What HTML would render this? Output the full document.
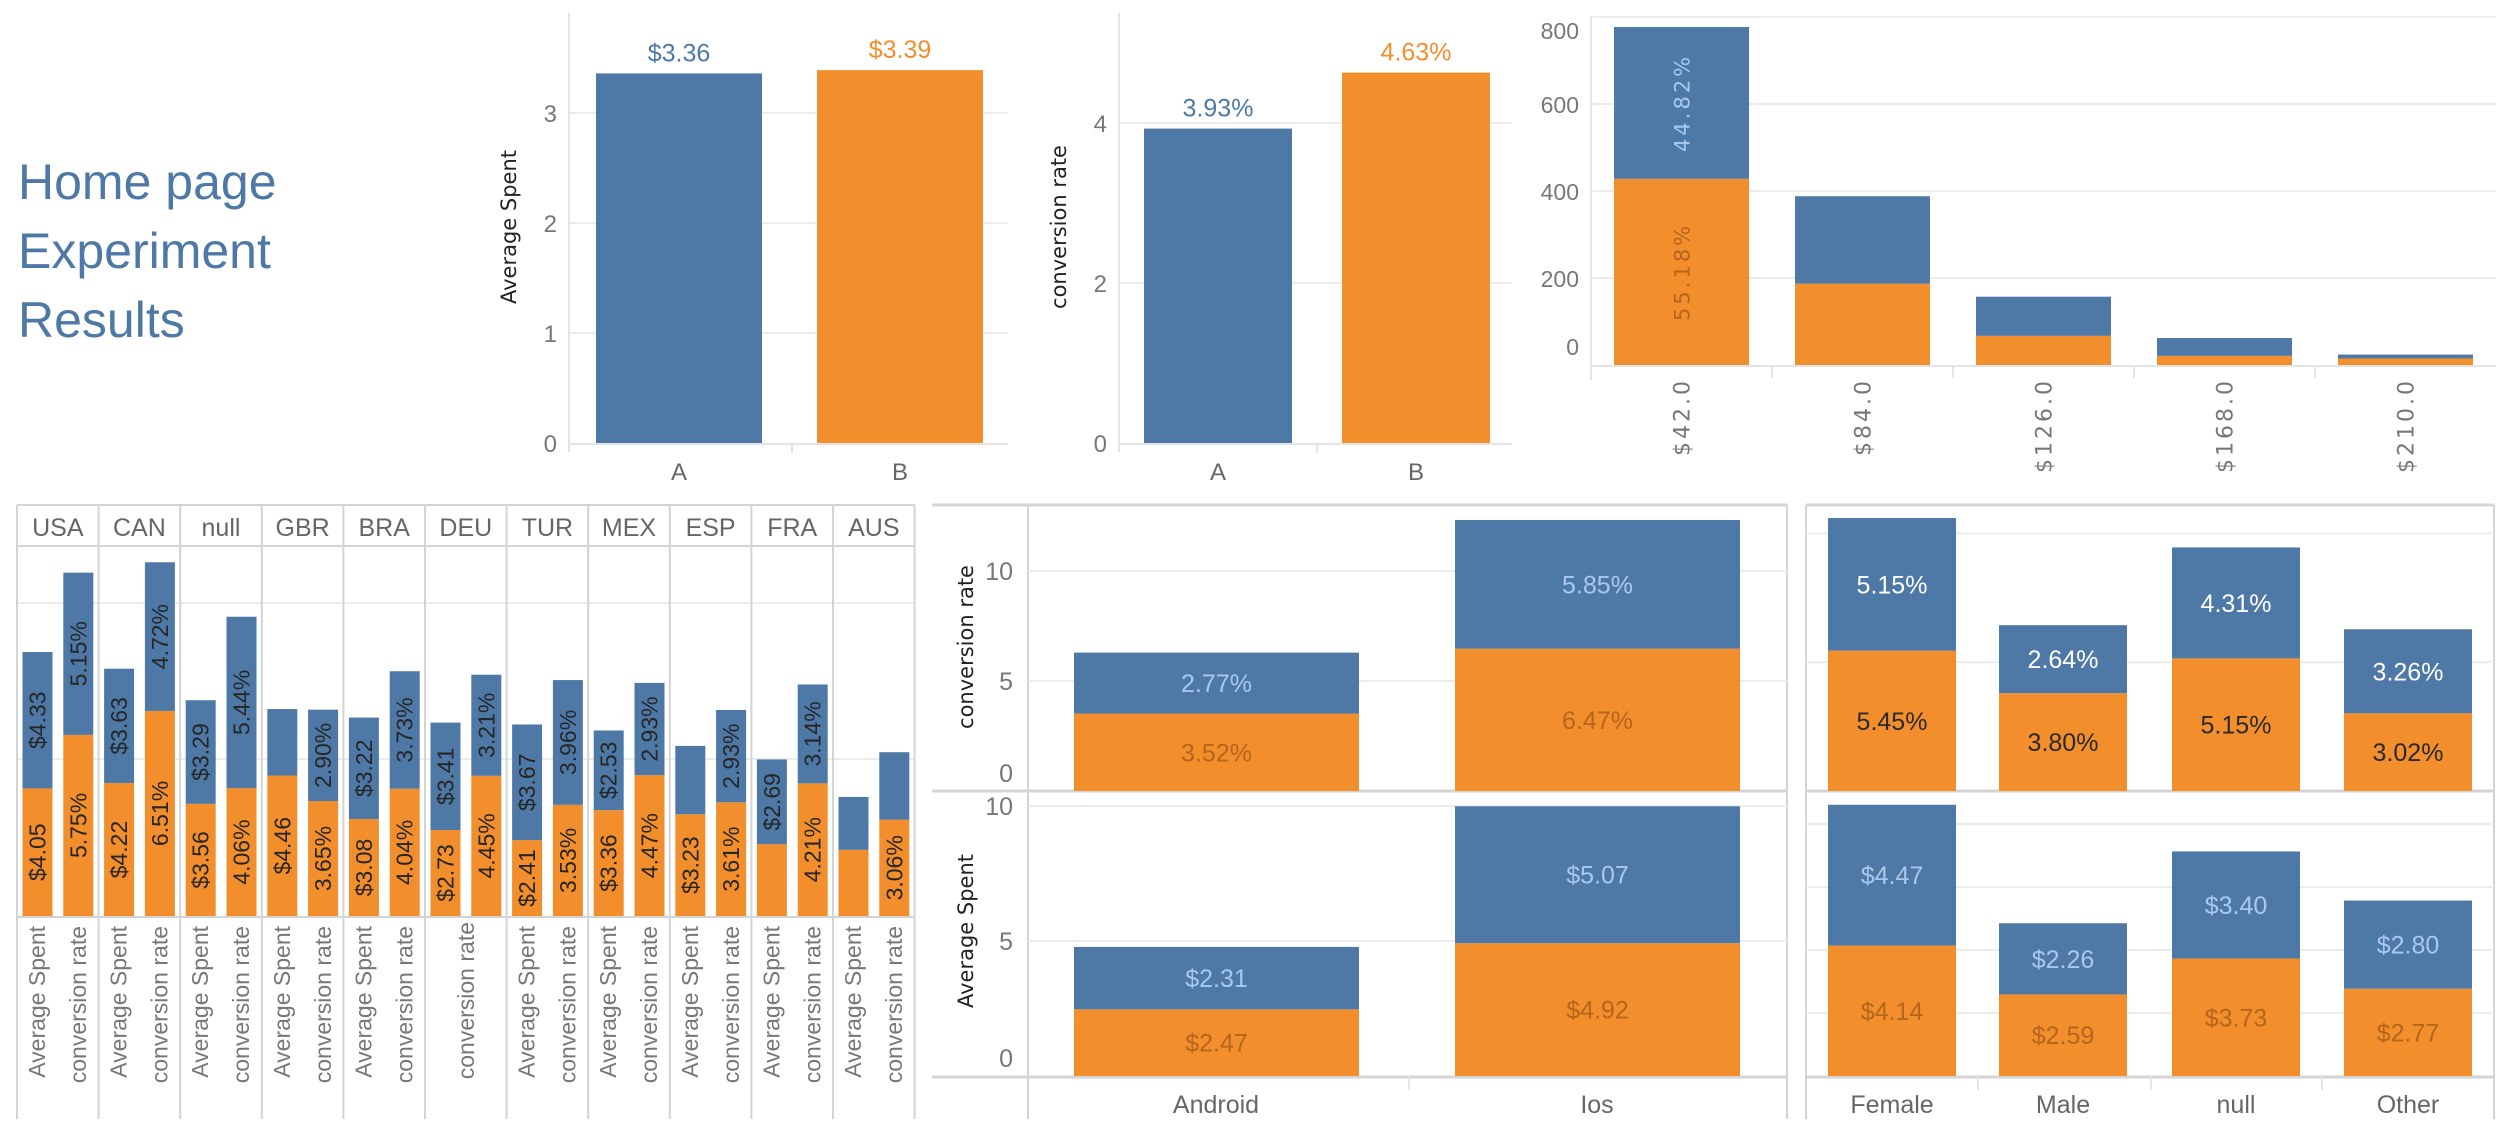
<!DOCTYPE html>
<html><head><meta charset="utf-8"><style>
html,body{margin:0;padding:0;background:#fff;}
svg{display:block;font-family:"Liberation Sans",sans-serif;}
</style></head><body>
<svg id="dash" width="2500" height="1144" viewBox="0 0 2500 1144" xmlns="http://www.w3.org/2000/svg">
<g fill="#4e79a7" font-size="50">
<text x="18" y="199">Home page</text>
<text x="18" y="268">Experiment</text>
<text x="18" y="337">Results</text>
</g>
</svg>
<script>
// ---------- data ----------
const groups = ['A','B'];
const avgSpent = [3.36, 3.39];
const avgSpentLabels = ['$3.36','$3.39'];
const convRate = [3.93, 4.63];
const convRateLabels = ['3.93%','4.63%'];
const ticksAS = [0,1,2,3];
const ticksCR = [0,2,4];

const histBins = ['$42.0','$84.0','$126.0','$168.0','$210.0'];
const histB = [428,187,67,21,15];
const histA = [349,201,90,41,9];
const histTicks = [0,200,400,600,800];
const histPctB = '55.18%';
const histPctA = '44.82%';

const countries = ['USA','CAN','null','GBR','BRA','DEU','TUR','MEX','ESP','FRA','AUS'];
const ctyAsB = [4.05,4.22,3.56,4.46,3.08,2.73,2.41,3.36,3.23,2.28,2.10];
const ctyAsA = [4.33,3.63,3.29,2.11,3.22,3.41,3.67,2.53,2.17,2.69,1.68];
const ctyCrB = [5.75,6.51,4.06,3.65,4.04,4.45,3.53,4.47,3.61,4.21,3.06];
const ctyCrA = [5.15,4.72,5.44,2.90,3.73,3.21,3.96,2.93,2.93,3.14,2.14];

const devices = ['Android','Ios'];
const devCrB = [3.52,6.47];
const devCrA = [2.77,5.85];
const devAsB = [2.47,4.92];
const devAsA = [2.31,5.07];
const devTicksCR = [0,5,10];
const devTicksAS = [0,5,10];

const genders = ['Female','Male','null','Other'];
const genCrB = [5.45,3.80,5.15,3.02];
const genCrA = [5.15,2.64,4.31,3.26];
const genAsB = [4.14,2.59,3.73,2.77];
const genAsA = [4.47,2.26,3.40,2.80];
const genGridCR = [5,10];
const genGridAS = [2,4,6,8];

// ---------- helpers ----------
const NS='http://www.w3.org/2000/svg';
const svg=document.getElementById('dash');
const BLUE='#4e79a7', ORANGE='#f28e2b', GRID='#ececec', LINE='#d4d4d4';
function mk(tag,attrs,txt){const e=document.createElementNS(NS,tag);for(const k in attrs)e.setAttribute(k,attrs[k]);if(txt!==undefined)e.textContent=txt;svg.appendChild(e);return e;}
function fmtD(v){return '$'+v.toFixed(2);}
function fmtP(v){return v.toFixed(2)+'%';}
let el;

// ---------- Chart 1: Average Spent ----------
{
 const base=443, k=110, x0=569, x1=1008;
 const yS=v=>base-v*k;
 ticksAS.forEach(t=>{
  if(t>0){el=mk('line',{x1:x0,x2:x1,y1:yS(t),y2:yS(t),stroke:GRID,'stroke-width':2});
  
  }
  el=mk('text',{x:557,y:yS(t)+9,'text-anchor':'end','font-size':24,fill:'#777'},String(t));
  
  
 });
 el=mk('line',{x1:x0,x2:x0,y1:13,y2:452,stroke:'#e4e4e4','stroke-width':2});
 
 
 el=mk('line',{x1:x0,x2:x1,y1:base+1,y2:base+1,stroke:'#e4e4e4','stroke-width':2});
 
 
 el=mk('line',{x1:792,x2:792,y1:base,y2:453,stroke:'#e4e4e4','stroke-width':2});
 
 
 const bx=[596,817];
 groups.forEach((g,i)=>{
  const c=i?ORANGE:BLUE;
  el=mk('rect',{x:bx[i],y:yS(avgSpent[i]),width:166,height:avgSpent[i]*k,fill:c});
  
  
  el=mk('text',{x:bx[i]+83,y:yS(avgSpent[i])-12,'text-anchor':'middle','font-size':25,fill:c},avgSpentLabels[i]);
  
  
  el=mk('text',{x:bx[i]+83,y:480,'text-anchor':'middle','font-size':24,fill:'#666'},g);
  
  
 });
 el=mk('text',{transform:'translate(516,227) rotate(-90)','text-anchor':'middle','font-size':21,fill:'#222','font-family':'DejaVu Sans, sans-serif'},'Average Spent');
 
 
}

// ---------- Chart 2: conversion rate ----------
{
 const base=443, k=80, x0=1119, x1=1512;
 const yS=v=>base-v*k;
 ticksCR.forEach(t=>{
  if(t>0){el=mk('line',{x1:x0,x2:x1,y1:yS(t),y2:yS(t),stroke:GRID,'stroke-width':2});
  
  }
  el=mk('text',{x:1107,y:yS(t)+9,'text-anchor':'end','font-size':24,fill:'#777'},String(t));
  
  
 });
 el=mk('line',{x1:x0,x2:x0,y1:13,y2:452,stroke:'#e4e4e4','stroke-width':2});
 
 
 el=mk('line',{x1:x0,x2:x1,y1:base+1,y2:base+1,stroke:'#e4e4e4','stroke-width':2});
 
 
 el=mk('line',{x1:1317,x2:1317,y1:base,y2:453,stroke:'#e4e4e4','stroke-width':2});
 
 
 const bx=[1144,1342];
 groups.forEach((g,i)=>{
  const c=i?ORANGE:BLUE;
  el=mk('rect',{x:bx[i],y:yS(convRate[i]),width:148,height:convRate[i]*k,fill:c});
  
  
  el=mk('text',{x:bx[i]+74,y:yS(convRate[i])-12,'text-anchor':'middle','font-size':25,fill:c},convRateLabels[i]);
  
  
  el=mk('text',{x:bx[i]+74,y:480,'text-anchor':'middle','font-size':24,fill:'#666'},g);
  
  
 });
 el=mk('text',{transform:'translate(1066,227) rotate(-90)','text-anchor':'middle','font-size':21,fill:'#222','font-family':'DejaVu Sans, sans-serif'},'conversion rate');
 
 
}

// ---------- Chart 3: histogram ----------
{
 const base=365, k=0.435, x0=1591, x1=2496, bw=181;
 const yS=v=>base-v*k;
 histTicks.forEach(t=>{
  if(t>0){el=mk('line',{x1:x0,x2:x1,y1:yS(t),y2:yS(t),stroke:GRID,'stroke-width':2});
  
  }
  let ly=yS(t)+9; if(t===800) ly=yS(t)+22; if(t===0) ly=yS(t)-10;
  el=mk('text',{x:1579,y:ly,'text-anchor':'end','font-size':23,fill:'#777'},String(t));
  
  
 });
 el=mk('line',{x1:x0,x2:x0,y1:17,y2:380,stroke:'#e4e4e4','stroke-width':2});
 
 
 el=mk('line',{x1:x0,x2:x1,y1:base+1,y2:base+1,stroke:'#e4e4e4','stroke-width':2});
 
 
 histBins.forEach((b,i)=>{
  const cx=x0+bw*(i+0.5), bx=cx-67.5;
  if(i>0){el=mk('line',{x1:x0+bw*i,x2:x0+bw*i,y1:base,y2:378,stroke:'#e4e4e4','stroke-width':2});
  
  }
  el=mk('rect',{x:bx,y:yS(histB[i]),width:135,height:histB[i]*k,fill:ORANGE});
  
  
  el=mk('rect',{x:bx,y:yS(histB[i]+histA[i]),width:135,height:histA[i]*k,fill:BLUE});
  
  
  el=mk('text',{transform:`translate(${cx+8},378) rotate(-90)`,'text-anchor':'end','font-size':22,fill:'#777','font-family':'DejaVu Sans, sans-serif','letter-spacing':3},b);
  
  
  if(i===0){
   el=mk('text',{transform:`translate(${cx+8},${yS(histB[i]/2)}) rotate(-90)`,'text-anchor':'middle','font-size':21,fill:'#b5651d','font-family':'DejaVu Sans, sans-serif','letter-spacing':3},histPctB);
   
   
   el=mk('text',{transform:`translate(${cx+8},${yS(histB[i]+histA[i]/2)}) rotate(-90)`,'text-anchor':'middle','font-size':21,fill:'#a8c8ee','font-family':'DejaVu Sans, sans-serif','letter-spacing':3},histPctA);
   
   
  }
 });
}

// ---------- Chart 4: countries ----------
{
 const base=916, k=31.5, x0=17, cw=81.6, top=505, hdr=546, bot=1119;
 const yS=v=>base-v*k;
 [603,759].forEach(y=>{el=mk('line',{x1:x0,x2:915,y1:y,y2:y,stroke:GRID,'stroke-width':2});
  
  });
 [top,hdr,base+1].forEach(y=>{el=mk('line',{x1:x0,x2:915,y1:y,y2:y,stroke:LINE,'stroke-width':2});
  
  });
 for(let i=0;i<=countries.length;i++){
  el=mk('line',{x1:x0+cw*i,x2:x0+cw*i,y1:top,y2:bot,stroke:LINE,'stroke-width':2});
  
  
 }
 const seg=(x,v0,v1,txt,nm)=>{
  el=mk('rect',{x:x,y:yS(v0+v1),width:30,height:v1*k,fill:nm.endsWith('a')?BLUE:ORANGE});
  
  
  if(v1*k>=75){
   el=mk('text',{transform:`translate(${x+23},${yS(v0+v1/2)}) rotate(-90)`,'text-anchor':'middle','font-size':23,fill:'#262626'},txt);
   
   
  }
 };
 countries.forEach((c,i)=>{
  const cx=x0+cw*i;
  el=mk('text',{x:cx+cw/2,y:536,'text-anchor':'middle','font-size':25,fill:'#666'},c);
  
  
  seg(cx+5.5,0,ctyAsB[i],fmtD(ctyAsB[i]),'country-as-bar-b');
  seg(cx+5.5,ctyAsB[i],ctyAsA[i],fmtD(ctyAsA[i]),'country-as-bar-a');
  seg(cx+46.3,0,ctyCrB[i],fmtP(ctyCrB[i]),'country-cr-bar-b');
  seg(cx+46.3,ctyCrB[i],ctyCrA[i],fmtP(ctyCrA[i]),'country-cr-bar-a');
  if(c==='DEU'){
   el=mk('text',{transform:`translate(${cx+cw/2+8},922) rotate(-90)`,'text-anchor':'end','font-size':23,fill:'#777'},'conversion rate');
   
   
  } else {
   el=mk('text',{transform:`translate(${cx+28},926) rotate(-90)`,'text-anchor':'end','font-size':23,fill:'#777'},'Average Spent');
   
   
   el=mk('text',{transform:`translate(${cx+69},926) rotate(-90)`,'text-anchor':'end','font-size':23,fill:'#777'},'conversion rate');
   
   
  }
 });
}

// ---------- stacked panel helper ----------
function panel(opts){
 const {base,k,x0,x1,cats,bx,bw,vb,va,fmt,ticks,grid,cb,ca,pre}=opts;
 const yS=v=>base-v*k;
 (grid||[]).forEach(t=>{el=mk('line',{x1:x0,x2:x1,y1:yS(t),y2:yS(t),stroke:GRID,'stroke-width':2});
  
  });
 (ticks||[]).forEach(t=>{
  let ly=yS(t)+9; if(t===0) ly=yS(t)-9;
  el=mk('text',{x:1013,y:ly,'text-anchor':'end','font-size':25,fill:'#777'},String(t));
  
  
 });
 cats.forEach((c,i)=>{
  el=mk('rect',{x:bx[i],y:yS(vb[i]),width:bw,height:vb[i]*k,fill:ORANGE});
  
  
  el=mk('rect',{x:bx[i],y:yS(vb[i]+va[i]),width:bw,height:va[i]*k,fill:BLUE});
  
  
  el=mk('text',{x:bx[i]+bw/2,y:yS(vb[i]/2)+9,'text-anchor':'middle','font-size':25,fill:cb},fmt(vb[i]));
  
  
  el=mk('text',{x:bx[i]+bw/2,y:yS(vb[i]+va[i]/2)+9,'text-anchor':'middle','font-size':25,fill:ca},fmt(va[i]));
  
  
 });
}

// frame lines for device + gender
[[932,1787],[1806,2494]].forEach(([a,b])=>{
 [505,791,1077].forEach(y=>{el=mk('line',{x1:a,x2:b,y1:y,y2:y,stroke:LINE,'stroke-width':3});
  
  });
});
[[1028,505,1119],[1787,505,1119],[1806,505,1119],[2494,505,1119]].forEach(([x,a,b])=>{
 el=mk('line',{x1:x,x2:x,y1:a,y2:b,stroke:LINE,'stroke-width':2});
 
 
});

// ---------- Device ----------
const devX=[1074,1455];
panel({base:791,k:22,x0:1028,x1:1787,cats:devices,bx:devX,bw:285,vb:devCrB,va:devCrA,fmt:fmtP,ticks:devTicksCR,grid:[5,10],cb:'#b5651d',ca:'#a8c8ee',pre:'device-cr'});
panel({base:1076,k:27,x0:1028,x1:1787,cats:devices,bx:devX,bw:285,vb:devAsB,va:devAsA,fmt:fmtD,ticks:devTicksAS,grid:[5,10],cb:'#b5651d',ca:'#a8c8ee',pre:'device-as'});
devices.forEach((d,i)=>{
 el=mk('text',{x:devX[i]+142,y:1113,'text-anchor':'middle','font-size':25,fill:'#666'},d);
 
 
});
el=mk('line',{x1:1409,x2:1409,y1:1077,y2:1090,stroke:'#e4e4e4','stroke-width':2});


el=mk('text',{transform:'translate(973,647) rotate(-90)','text-anchor':'middle','font-size':21,fill:'#222','font-family':'DejaVu Sans, sans-serif'},'conversion rate');


el=mk('text',{transform:'translate(973,931) rotate(-90)','text-anchor':'middle','font-size':21,fill:'#222','font-family':'DejaVu Sans, sans-serif'},'Average Spent');



// ---------- Gender ----------
const genX=[1828,1999,2172,2344];
panel({base:791,k:25.75,x0:1806,x1:2494,cats:genders,bx:genX,bw:128,vb:genCrB,va:genCrA,fmt:fmtP,grid:genGridCR,cb:'#2a2a2a',ca:'#ffffff',pre:'gender-cr'});
panel({base:1076,k:31.5,x0:1806,x1:2494,cats:genders,bx:genX,bw:128,vb:genAsB,va:genAsA,fmt:fmtD,grid:genGridAS,cb:'#b5651d',ca:'#a8c8ee',pre:'gender-as'});
genders.forEach((g,i)=>{
 el=mk('text',{x:genX[i]+64,y:1113,'text-anchor':'middle','font-size':25,fill:'#666'},g);
 
 
});
[1978,2151,2322].forEach(x=>{el=mk('line',{x1:x,x2:x,y1:1077,y2:1090,stroke:'#e4e4e4','stroke-width':2});
 
 });
</script>
</body></html>
